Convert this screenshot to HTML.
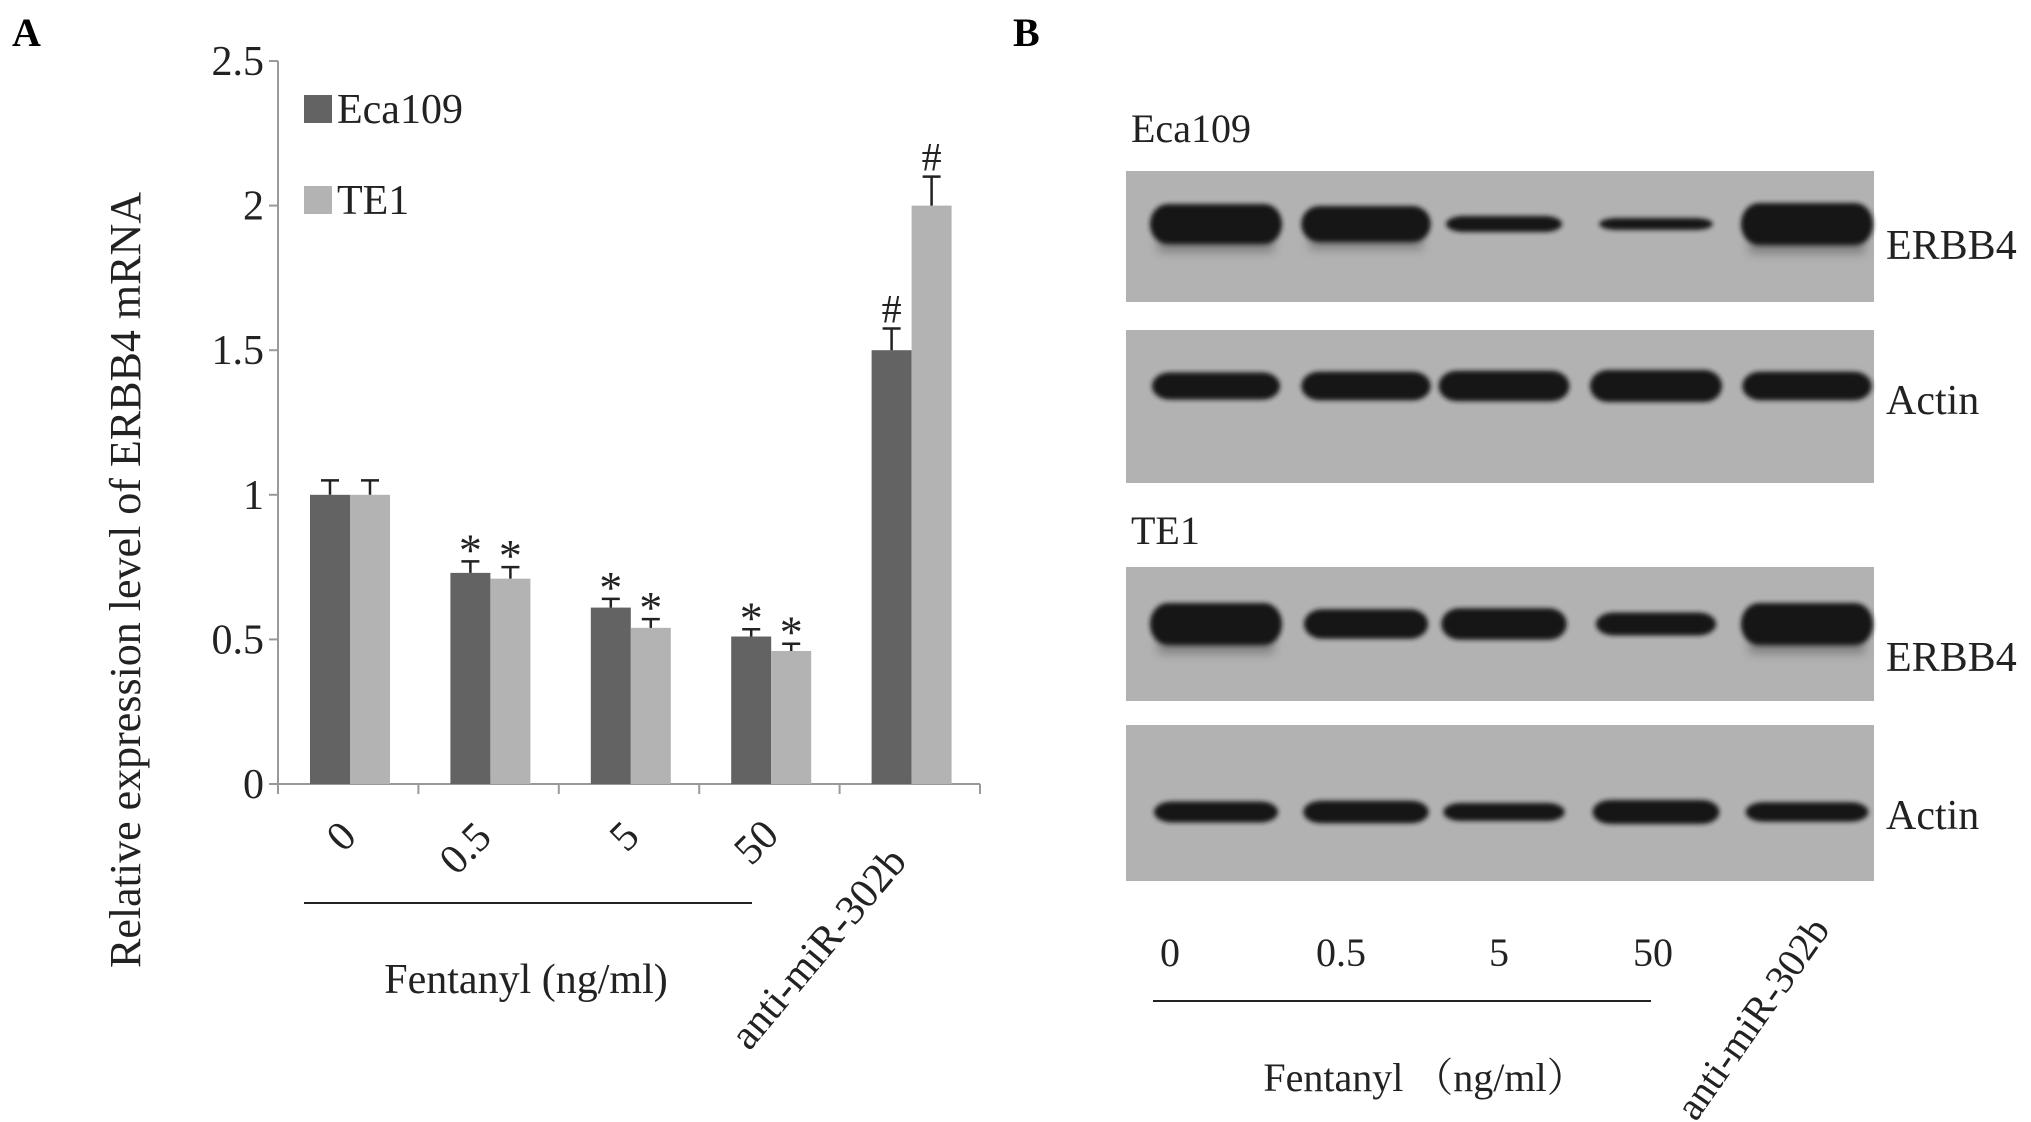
<!DOCTYPE html>
<html><head><meta charset="utf-8"><style>
html,body{margin:0;padding:0;background:#fff;}
svg{display:block;font-family:"Liberation Serif","Noto Serif CJK SC",serif;}
</style></head><body>
<svg id="fig" width="2031" height="1122" viewBox="0 0 2031 1122" xmlns="http://www.w3.org/2000/svg">
<defs>
<filter id="blur" x="-20%" y="-80%" width="140%" height="260%"><feGaussianBlur stdDeviation="2.5"/></filter>
<filter id="smear" x="-20%" y="-80%" width="140%" height="260%"><feGaussianBlur stdDeviation="5"/></filter>
</defs>
<g id="panelA"></g>
<g id="panelB"></g>
</svg>
<script>
const categories = ["0","0.5","5","50","anti-miR-302b"];
const seriesNames = ["Eca109","TE1"];
const eca109Values = [1.00,0.73,0.61,0.51,1.50];
const te1Values = [1.00,0.71,0.54,0.46,2.00];
const eca109Errors = [0.05,0.04,0.03,0.025,0.075];
const te1Errors = [0.05,0.04,0.03,0.025,0.10];
const eca109Marks = ["","*","*","*","#"];
const te1Marks = ["","*","*","*","#"];
const yTicks = [0,0.5,1,1.5,2,2.5];
const yTickLabels = ["0","0.5","1","1.5","2","2.5"];
const blotLanes = ["0","0.5","5","50","anti-miR-302b"];
const ecaErbb4Intensity = [1.0,0.9,0.4,0.3,1.05];
const ecaActinIntensity = [0.85,0.9,0.95,1.0,0.9];
const te1Erbb4Intensity = [1.0,0.7,0.75,0.55,1.0];
const te1ActinIntensity = [0.7,0.75,0.6,0.8,0.65];

const NS="http://www.w3.org/2000/svg";
function mk(parent,tag,attrs,text){const e=document.createElementNS(NS,tag);for(const k in attrs)e.setAttribute(k,attrs[k]);if(text!==undefined)e.textContent=text;parent.appendChild(e);return e;}

// ---------- Panel A ----------
const A=document.getElementById('panelA');
const x0=278, catW=140.4, yBase=784, yTop=61, yMax=2.5, barW=40, barOff=32;
function ys(v){return yBase-(v/yMax)*(yBase-yTop);}
function xc(i){return x0+i*catW;}

let t=mk(A,'text',{x:12,y:46,'font-size':40,'font-weight':'bold'},'A');



let ax=mk(A,'line',{x1:x0,y1:ys(2.5),x2:x0,y2:yBase,stroke:'#999','stroke-width':2});


let xa=mk(A,'line',{x1:x0,y1:yBase,x2:xc(categories.length),y2:yBase,stroke:'#999','stroke-width':2});



yTicks.forEach((v,i)=>{
  let l=mk(A,'line',{x1:x0-9,y1:ys(v),x2:x0,y2:ys(v),stroke:'#999','stroke-width':2});
  
  
  let tx=mk(A,'text',{x:x0-14,y:ys(v)+14,'font-size':42,'text-anchor':'end',fill:'#222'},yTickLabels[i]);
  
  
});
for(let i=0;i<=categories.length;i++){
  let l=mk(A,'line',{x1:xc(i),y1:yBase,x2:xc(i),y2:yBase+10,stroke:'#999','stroke-width':2});
  
  
}

function drawSeries(vals,errs,marks,color,k,name){
  vals.forEach((v,i)=>{
    const bx=xc(i)+barOff+k*barW;
    let r=mk(A,'rect',{x:bx,y:ys(v),width:barW,height:yBase-ys(v),fill:color});
    
    
    const cx=bx+barW/2, ye=ys(v+errs[i]);
    let e=mk(A,'path',{d:`M${cx},${ys(v)}V${ye}M${cx-9},${ye}H${cx+9}`,stroke:'#222','stroke-width':2.5,fill:'none'});
    
    
    if(marks[i]){
      const isHash=marks[i]==='#';
      let m=mk(A,'text',{x:cx,y:isHash?ye-6:ye+4,'font-size':isHash?40:46,'text-anchor':'middle',fill:'#222'},marks[i]);
      
      
    }
  });
}
drawSeries(eca109Values,eca109Errors,eca109Marks,'#636363',0,'eca109');
drawSeries(te1Values,te1Errors,te1Marks,'#b3b3b3',1,'te1');

// legend
[['#636363',95],['#b3b3b3',186]].forEach((c,i)=>{
  let s=mk(A,'rect',{x:304,y:c[1],width:28,height:28,fill:c[0]});
  
  
  let lt=mk(A,'text',{x:337,y:c[1]+28,'font-size':42,fill:'#222'},seriesNames[i]);
  
  
});

// category labels
const catPos=[[341,836],[465,848],[624,836],[756,842],[818,948]];
categories.forEach((c,i)=>{
  let cl=mk(A,'text',{x:0,y:14,'font-size':42,'text-anchor':'middle',fill:'#222',transform:`translate(${catPos[i][0]},${catPos[i][1]}) rotate(${i<4?-45:-50})`},c);
  
  
});
let gl=mk(A,'line',{x1:304,y1:903,x2:752,y2:903,stroke:'#222','stroke-width':2});


let ft=mk(A,'text',{x:526,y:993,'font-size':42,'text-anchor':'middle',fill:'#222','xml:space':'preserve'},'Fentanyl  (ng/ml)');


let yt=mk(A,'text',{x:0,y:0,'font-size':44,'text-anchor':'middle',fill:'#222',transform:'translate(140,580) rotate(-90)','xml:space':'preserve'},'Relative expression level  of ERBB4 mRNA');



// ---------- Panel B ----------
const B=document.getElementById('panelB');
let bl=mk(B,'text',{x:1013,y:46,'font-size':40,'font-weight':'bold'},'B');


const laneX=[1216,1366,1504,1656,1807];
const blots=[
 {y:171,h:131,cy:224,maxH:40,data:ecaErbb4Intensity,label:'ERBB4',ly:259,name:'eca109-erbb4-blot',smear:true},
 {y:330,h:153,cy:386,maxH:32,data:ecaActinIntensity,label:'Actin',ly:414,name:'eca109-actin-blot',smear:false},
 {y:567,h:134,cy:624,maxH:42,data:te1Erbb4Intensity,label:'ERBB4',ly:671,name:'te1-erbb4-blot',smear:true},
 {y:725,h:156,cy:812,maxH:30,data:te1ActinIntensity,label:'Actin',ly:829,name:'te1-actin-blot',smear:false}
];
blots.forEach(b=>{
  let r=mk(B,'rect',{x:1126,y:b.y,width:748,height:b.h,fill:'#b2b2b2'});
  
  
  b.data.forEach((v,i)=>{
    const h=b.maxH*v, w=132*(0.8+0.2*Math.min(v,1));
    if(b.smear && v>0.8){
      let sm=mk(B,'rect',{x:laneX[i]-w/2+8,y:b.cy,width:w-16,height:h*0.7,fill:'#6a6a6a',filter:'url(#smear)',opacity:0.7});
      
      
    }
    let band=mk(B,'rect',{x:laneX[i]-w/2,y:b.cy-h/2,width:w,height:h,rx:18,ry:h/2,fill:'#151515',filter:'url(#blur)'});
    
    
  });
  let lt=mk(B,'text',{x:1886,y:b.ly,'font-size':42,fill:'#222'},b.label);
  
  
});
let e1=mk(B,'text',{x:1131,y:142,'font-size':40,fill:'#222'},'Eca109');


let e2=mk(B,'text',{x:1131,y:544,'font-size':40,fill:'#222'},'TE1');


const laneLabelX=[1170,1341,1499,1653];
blotLanes.forEach((c,i)=>{
  if(i<4){
    let l=mk(B,'text',{x:laneLabelX[i],y:966,'font-size':40,'text-anchor':'middle',fill:'#222'},c);
    
    
  } else {
    let l=mk(B,'text',{x:0,y:14,'font-size':40,'text-anchor':'middle',fill:'#222',transform:'translate(1752,1018) rotate(-55)'},c);
    
    
  }
});
let bl2=mk(B,'line',{x1:1153,y1:1001,x2:1651,y2:1001,stroke:'#222','stroke-width':2});


let bt=mk(B,'text',{x:1425,y:1091,'font-size':40,'text-anchor':'middle',fill:'#222'},'Fentanyl （ng/ml）');


</script>
</body></html>
